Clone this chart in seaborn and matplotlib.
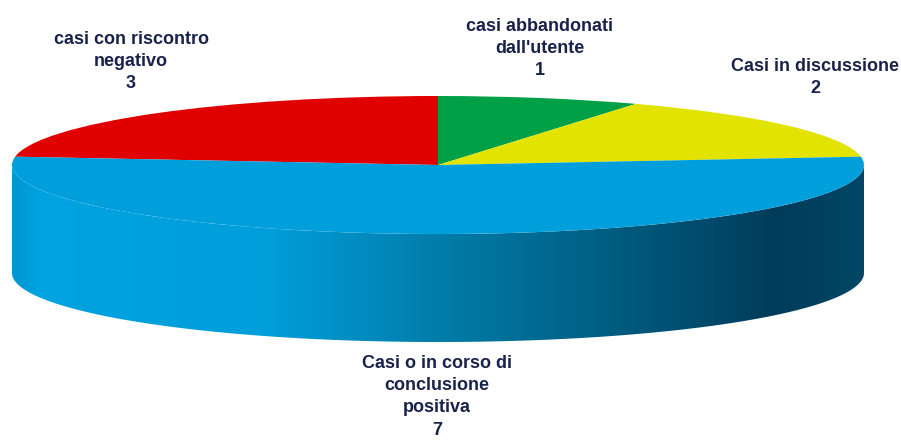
import numpy as np
import matplotlib
matplotlib.use("Agg")
import matplotlib.pyplot as plt
import seaborn as sns
from matplotlib.patches import Polygon
from matplotlib.colors import LinearSegmentedColormap

sns.set_style("white")

# ---- data ----
categories = ["casi con riscontro\nnegativo", "casi abbandonati\ndall'utente",
              "Casi in discussione", "Casi o in corso di\nconclusione\npositiva"]
values = [3, 1, 2, 7]
colors = ["#E00000", "#00A046", "#E3E300", "#009FDB"]

W, H = 901, 441
fig = plt.figure(figsize=(W / 100, H / 100), dpi=100)
ax = fig.add_axes([0, 0, 1, 1])
ax.set_xlim(0, W)
ax.set_ylim(H, 0)
ax.axis("off")

# ellipse geometry (pixels)
cx, cy, a, b = 438, 165, 426, 69
depth = 108

# ---- side wall (front half, blue) with horizontal gradient ----
t = np.linspace(np.pi, 2 * np.pi, 200)
xs = cx + a * np.cos(t)
ys_top = cy - b * np.sin(t)
ys_bot = ys_top + depth
poly = np.vstack([np.column_stack([xs, ys_top]),
                  np.column_stack([xs[::-1], ys_bot[::-1]])])
patch = Polygon(poly, closed=True, facecolor="none", edgecolor="none")
ax.add_patch(patch)

cmap = LinearSegmentedColormap.from_list(
    "wall",
    [(0.0, (0/255, 150/255, 210/255)),
     (0.03, (0/255, 163/255, 224/255)),
     (0.30, (0/255, 158/255, 218/255)),
     (0.50, (0/255, 125/255, 170/255)),
     (0.75, (0/255, 85/255, 120/255)),
     (0.90, (0/255, 60/255, 90/255)),
     (1.0, (0/255, 70/255, 102/255))])
grad = np.linspace(0, 1, 512)[None, :].repeat(4, axis=0)
im = ax.imshow(grad, cmap=cmap, aspect="auto",
               extent=[cx - a, cx + a, cy + b + depth + 2, cy - 2],
               interpolation="bilinear", zorder=1)
im.set_clip_path(patch)
ax.set_xlim(0, W)
ax.set_ylim(H, 0)

# ---- top face as a squashed pie ----
pax = fig.add_axes([(cx - a) / W, (H - (cy + b)) / H, 2 * a / W, 2 * b / H])
total = sum(values)
start = 90 + 360 * values[0] / total
pax.pie(values, colors=colors, startangle=start, counterclock=False,
        radius=1, wedgeprops=dict(linewidth=0))
pax.set_aspect("auto")
pax.set_xlim(-1, 1)
pax.set_ylim(-1, 1)
pax.axis("off")

# ---- labels ----
label_pos = [(131, 40), (540, 27), (815, 67), (437, 364)]
txtcol = "#18224A"
fam = ["Liberation Sans", "DejaVu Sans"]
for cat, v, (x, y) in zip(categories, values, label_pos):
    ax.text(x, y - 9, f"{cat}\n{v}", ha="center", va="top", fontsize=13,
            fontweight="bold", color=txtcol, family=fam, linespacing=1.4)

fig.savefig("out.png", dpi=100)
